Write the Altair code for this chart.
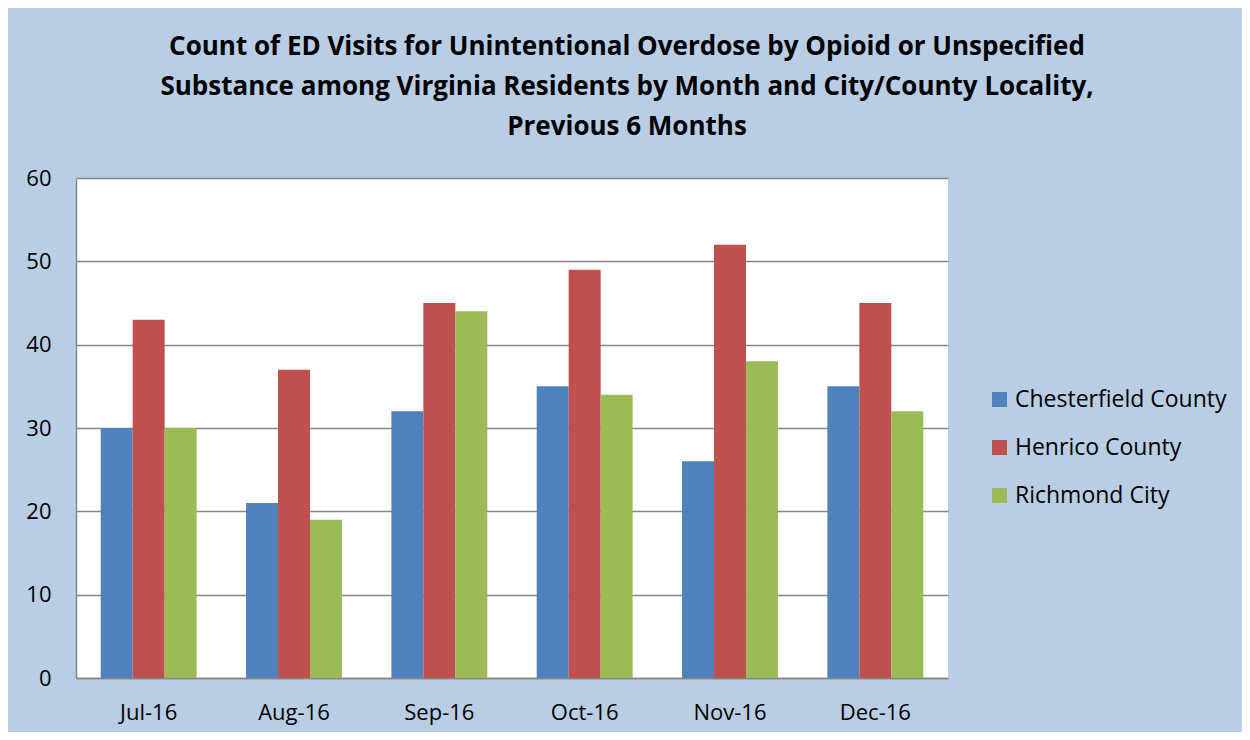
import altair as alt
import pandas as pd

months = ["Jul-16", "Aug-16", "Sep-16", "Oct-16", "Nov-16", "Dec-16"]
series = ["Chesterfield County", "Henrico County", "Richmond City"]
chesterfield = [30, 21, 32, 35, 26, 35]
henrico = [43, 37, 45, 49, 52, 45]
richmond = [30, 19, 44, 34, 38, 32]
colors = ["#4F81BD", "#C0504D", "#9BBB59"]

rows = []
for s, vals in zip(series, [chesterfield, henrico, richmond]):
    for m, v in zip(months, vals):
        rows.append({"month": m, "series": s, "value": v})
df = pd.DataFrame(rows)

FONT = "Open Sans"

chart = alt.Chart(df).mark_bar().encode(
    x=alt.X("month:N", sort=months, title=None,
            scale=alt.Scale(paddingInner=0.34, paddingOuter=0.17),
            axis=alt.Axis(labelAngle=0, ticks=False, domain=True, domainColor="#868686",
                          domainWidth=1.5, labelFontSize=22, labelColor="#000000",
                          labelFont=FONT, labelPadding=24)),
    xOffset=alt.XOffset("series:N", sort=series),
    y=alt.Y("value:Q", title=None,
            scale=alt.Scale(domain=[0, 60]),
            axis=alt.Axis(values=[0, 10, 20, 30, 40, 50, 60], ticks=False, domain=True,
                          domainColor="#868686", domainWidth=1.5,
                          gridColor="#868686", gridWidth=1.5,
                          labelFontSize=22, labelColor="#000000", labelFont=FONT,
                          labelPadding=25)),
    color=alt.Color("series:N", sort=series,
                    scale=alt.Scale(domain=series, range=colors),
                    legend=alt.Legend(title=None, orient="none", legendX=912, legendY=210,
                                      symbolType="square", symbolSize=225, symbolStrokeWidth=0,
                                      labelFontSize=23, labelFont=FONT, labelColor="#000000",
                                      labelLimit=400, rowPadding=24, labelOffset=4)),
).properties(
    width=872,
    height=500,
    title=alt.Title(
        ["Count of ED Visits for Unintentional Overdose by Opioid or Unspecified",
         "Substance among Virginia Residents by Month and City/County Locality,",
         "Previous 6 Months"],
        fontSize=26, font=FONT, fontWeight="bold", color="#000000",
        anchor="middle", dx=115, offset=27, lineHeight=40,
    ),
    autosize=alt.AutoSizeParams(type="none"),
    padding={"left": 68, "top": 170, "right": 294, "bottom": 54},
    background="#B9CDE5",
).configure_view(fill="white", stroke=None)

chart.save("out.html", embed_options={"renderer": "svg", "actions": False})
